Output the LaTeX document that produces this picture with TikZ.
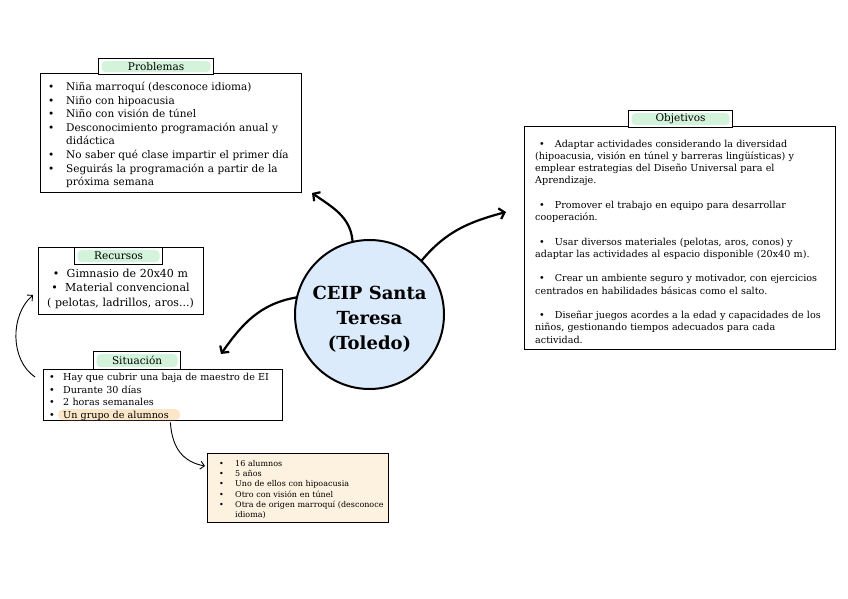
\documentclass[tikz,border=0pt]{standalone}
\usepackage{fontspec}
\setmainfont{DejaVu Serif}
\usetikzlibrary{arrows.meta}
\definecolor{hubblue}{HTML}{DCEBFB}
\definecolor{tabgreen}{HTML}{D3F3DA}
\definecolor{peach}{HTML}{FCE6C8}
\definecolor{notefill}{HTML}{FDF1DF}
\tikzset{>={Straight Barb[length=5pt,width=11pt]},
  box/.style={draw,line width=1.2pt,fill=white,inner sep=0pt,anchor=north west},
  tab/.style={box,font=\fontsize{10.5}{12}\selectfont,path picture={\fill[tabgreen,rounded corners=4pt] ([shift={(3pt,-2.5pt)}]path picture bounding box.north west) rectangle ([shift={(-3pt,2.5pt)}]path picture bounding box.south east);}},
  txt/.style={inner sep=0pt,anchor=base west,align=left},
  flow/.style={line width=2.2pt,->,line cap=round},
  link/.style={line width=.9pt,-{Straight Barb[length=4pt,width=8pt]}}}
\newcommand{\bul}[1]{\makebox[#1][l]{\textbullet}}
\newcommand{\obul}{\hspace*{4pt}\textbullet\hspace{10pt}}

\begin{document}
\begin{tikzpicture}[x=1pt,y=-1pt]
\useasboundingbox (0,0) rectangle (848,599);
% boxes
\node[box,minimum width=261pt,minimum height=119pt] (prob) at (40,73) {};
\node[box,minimum width=165pt,minimum height=67pt] (rec) at (38,247) {};
\node[box,minimum width=239pt,minimum height=51pt] (sit) at (43,369) {};
\node[box,fill=notefill,minimum width=181pt,minimum height=69pt] (note) at (207,453) {};
\node[box,minimum width=311pt,minimum height=223pt] (obj) at (524,126) {};
\node[fill=peach,rounded corners=5pt,inner sep=0pt,anchor=north west,minimum width=122pt,minimum height=11pt] (grp) at (58,409) {};
% tabs
\node[tab,minimum width=115pt,minimum height=16pt] (probtab) at (98,58) {Problemas};
\node[tab,minimum width=88pt,minimum height=17pt] (rectab) at (74,247) {Recursos};
\node[tab,minimum width=87pt,minimum height=18pt] (sittab) at (93,351) {Situación};
\node[tab,minimum width=104pt,minimum height=17pt] (objtab) at (628,110) {Objetivos};
% texts
\node[txt,text width=270pt,font=\fontsize{10.5}{13.6}\selectfont] (probtxt) at (48,90.5) {\bul{18pt}Niña marroquí (desconoce idioma)\\
\bul{18pt}Niño con hipoacusia\\
\bul{18pt}Niño con visión de túnel\\
\bul{18pt}Desconocimiento programación anual y\\
\hspace*{18pt}didáctica\\
\bul{18pt}No saber qué clase impartir el primer día\\
\bul{18pt}Seguirás la programación a partir de la\\
\hspace*{18pt}próxima semana};
\node[txt,anchor=base,align=center,text width=165pt,font=\fontsize{11}{14.5}\selectfont] (rectxt) at (120.5,277) {\textbullet\ \ Gimnasio de 20x40 m\\
\textbullet\ \ Material convencional\\
( pelotas, ladrillos, aros...)};
\node[txt,text width=235pt,font=\fontsize{9.6}{12.5}\selectfont] (sittxt) at (49,380.5) {\bul{14pt}Hay que cubrir una baja de maestro de EI\\
\bul{14pt}Durante 30 días\\
\bul{14pt}2 horas semanales\\
\bul{14pt}Un grupo de alumnos};
\node[txt,text width=180pt,font=\fontsize{8}{10.2}\selectfont] (notetxt) at (219,466.5) {\bul{16pt}16 alumnos\\
\bul{16pt}5 años\\
\bul{16pt}Uno de ellos con hipoacusia\\
\bul{16pt}Otro con visión en túnel\\
\bul{16pt}Otra de origen marroquí (desconoce\\
\hspace*{16pt}idioma)};
\node[txt,text width=300pt,font=\fontsize{9.6}{12.25}\selectfont] (objtxt) at (535,147) {\obul Adaptar actividades considerando la diversidad\\
(hipoacusia, visión en túnel y barreras lingüísticas) y\\
emplear estrategias del Diseño Universal para el\\
Aprendizaje.\\[12.25pt]
\obul Promover el trabajo en equipo para desarrollar\\
cooperación.\\[12.25pt]
\obul Usar diversos materiales (pelotas, aros, conos) y\\
adaptar las actividades al espacio disponible (20x40 m).\\[12.25pt]
\obul Crear un ambiente seguro y motivador, con ejercicios\\
centrados en habilidades básicas como el salto.\\[12.25pt]
\obul Diseñar juegos acordes a la edad y capacidades de los\\
niños, gestionando tiempos adecuados para cada\\
actividad.};
% centre
\node[circle,draw,line width=2pt,fill=hubblue,minimum size=149pt,inner sep=0pt] (ceip) at (369.5,314.5) {};
\node[align=center,font=\fontsize{18}{25}\bfseries] (ceiptxt) at ([yshift=-5pt]ceip.center) {CEIP Santa\\Teresa\\(Toledo)};
% arrows
\coordinate (probend) at (312,193);\coordinate (objend) at (506,212);\coordinate (sitend) at (221,354);
\draw[flow] (ceip.103) to[out=95,in=-35] (probend);
\draw[flow] (ceip.46) to[out=50,in=195] (objend);
\draw[flow] (ceip.167) to[out=190,in=55] (sitend);
\coordinate (sitstart) at ([shift={(-8pt,-8pt)}]sit.north west);\coordinate (recend) at ([shift={(-5pt,-48pt)}]rec.north west);
\draw[link] (sitstart) .. controls (10,360) and (10,315) .. (recend);
\coordinate (grpstart) at ([shift={(-10pt,-2pt)}]grp.south east);\coordinate (noteend) at ([shift={(-2pt,-13pt)}]note.north west);
\draw[link] (grpstart) .. controls (172,448) and (183,462) .. (noteend);
\end{tikzpicture}
\end{document}
